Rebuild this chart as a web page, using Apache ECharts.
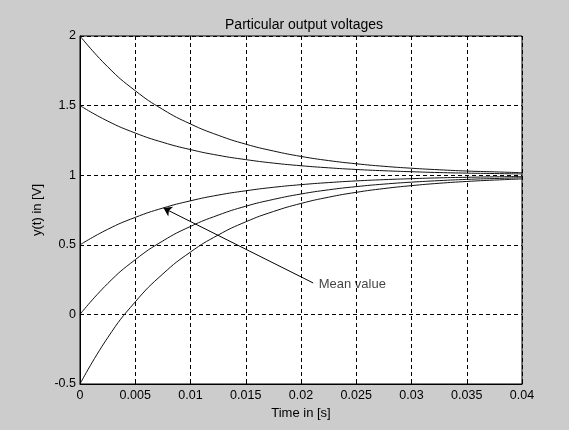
<!DOCTYPE html>
<html>
<head>
<meta charset="utf-8">
<script src="https://cdn.jsdelivr.net/npm/echarts@6/dist/echarts.min.js"></script>
<style>
html,body{margin:0;padding:0;background:#cccccc;}
#c{width:569px;height:430px;}
</style>
</head>
<body>
<div id="c"></div>
<script>
// Time samples [s]
var times = [0, 0.0025, 0.005, 0.0075, 0.01, 0.0125, 0.015, 0.0175, 0.02, 0.0225, 0.025, 0.0275, 0.03, 0.0325, 0.035, 0.0375, 0.04];
// Output voltages [V]
var yFrom2   = [2, 1.779, 1.607, 1.472, 1.368, 1.287, 1.223, 1.174, 1.135, 1.105, 1.082, 1.064, 1.050, 1.039, 1.030, 1.024, 1.018];
var yFrom15  = [1.5, 1.389, 1.303, 1.236, 1.184, 1.143, 1.112, 1.087, 1.068, 1.053, 1.041, 1.032, 1.025, 1.019, 1.015, 1.012, 1.009];
var yFrom05  = [0.5, 0.611, 0.697, 0.764, 0.816, 0.857, 0.888, 0.913, 0.932, 0.947, 0.959, 0.968, 0.975, 0.981, 0.985, 0.988, 0.991];
var yFrom0   = [0, 0.221, 0.393, 0.528, 0.632, 0.713, 0.777, 0.826, 0.865, 0.895, 0.918, 0.936, 0.950, 0.961, 0.970, 0.976, 0.982];
var yFromM05 = [-0.5, -0.168, 0.090, 0.291, 0.448, 0.570, 0.665, 0.739, 0.797, 0.842, 0.877, 0.904, 0.925, 0.942, 0.955, 0.965, 0.973];
var curves = [yFrom2, yFrom15, yFrom05, yFrom0, yFromM05];

// Axis ticks
var xTicks = ['0', '0.005', '0.01', '0.015', '0.02', '0.025', '0.03', '0.035', '0.04'];
var yTicks = ['-0.5', '0', '0.5', '1', '1.5', '2'];

// Annotation (data coordinates)
var annotText = 'Mean value';
var arrowFrom = [0.0211, 0.226];
var arrowTo = [0.00756, 0.764];
var textAt = [0.0216, 0.213];

var font = 'Liberation Sans, Arial, Helvetica, sans-serif';

function pair(arr) {
  return times.map(function (t, i) { return [t, arr[i]]; });
}

var series = curves.map(function (c) {
  return {
    type: 'line',
    data: pair(c),
    showSymbol: false,
    smooth: true,
    lineStyle: { color: '#111', width: 1 },
    silent: true
  };
});

series.push({
  type: 'scatter',
  data: [textAt],
  symbolSize: 0,
  silent: true,
  label: {
    show: true,
    position: 'right',
    distance: 0,
    formatter: annotText,
    color: '#111',
    fontFamily: font,
    fontSize: 13
  },
  markLine: {
    silent: true,
    symbol: ['none', 'arrow'],
    symbolSize: 8,
    label: { show: false },
    lineStyle: { color: '#000', width: 1, type: 'solid' },
    data: [[{ coord: arrowFrom }, { coord: arrowTo }]]
  }
});

var chart = echarts.init(document.getElementById('c'));
chart.setOption({
  animation: false,
  backgroundColor: '#cccccc',
  title: {
    text: 'Particular output voltages',
    left: 299,
    textAlign: 'center',
    top: 13,
    textStyle: { fontFamily: font, fontSize: 14, fontWeight: 'normal', color: '#000' }
  },
  grid: {
    left: 80, right: 47, top: 36, bottom: 46,
    show: true,
    backgroundColor: '#ffffff',
    borderColor: '#000',
    borderWidth: 1
  },
  xAxis: {
    type: 'value',
    min: 0, max: 0.04, interval: 0.005,
    name: 'Time in [s]',
    nameLocation: 'middle',
    nameGap: 22,
    nameTextStyle: { fontFamily: font, fontSize: 13, color: '#000' },
    axisLine: { show: true, onZero: false, lineStyle: { color: '#000' } },
    axisTick: { show: true, inside: true, length: 4, lineStyle: { color: '#000' } },
    axisLabel: {
      margin: 5, fontFamily: font, fontSize: 12.5, color: '#000',
      formatter: function (v) {
        var idx = Math.round(v / 0.005);
        return xTicks[idx] !== undefined ? xTicks[idx] : '';
      }
    },
    splitLine: { show: true, lineStyle: { color: '#000', type: [4, 3], width: 1 } }
  },
  yAxis: {
    type: 'value',
    min: -0.5, max: 2, interval: 0.5,
    name: 'y(t) in [V]',
    nameLocation: 'middle',
    nameGap: 30,
    nameTextStyle: { fontFamily: font, fontSize: 13, color: '#000' },
    axisLine: { show: true, onZero: false, lineStyle: { color: '#000' } },
    axisTick: { show: true, inside: true, length: 4, lineStyle: { color: '#000' } },
    axisLabel: {
      margin: 4, fontFamily: font, fontSize: 12.5, color: '#000',
      formatter: function (v) {
        var idx = Math.round((v + 0.5) / 0.5);
        return yTicks[idx] !== undefined ? yTicks[idx] : '';
      }
    },
    splitLine: { show: true, lineStyle: { color: '#000', type: [4, 3], width: 1 } }
  },
  series: series
});
</script>
</body>
</html>
